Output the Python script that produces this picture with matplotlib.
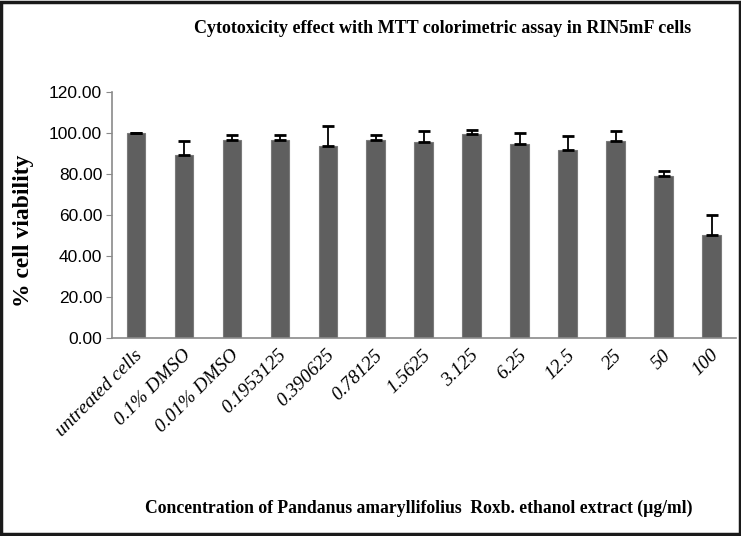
import numpy as np
import matplotlib.pyplot as plt
import matplotlib.transforms as mtransforms
from matplotlib.patches import Rectangle

# values
categories = ["untreated cells", "0.1% DMSO", "0.01% DMSO", "0.1953125", "0.390625",
              "0.78125", "1.5625", "3.125", "6.25", "12.5", "25", "50", "100"]
viability = [100.0, 89.4, 96.9, 96.9, 93.8, 96.9, 95.6, 99.4, 94.5, 92.0, 96.2, 79.2, 50.4]
sd = [0.3, 6.7, 2.4, 2.4, 9.8, 2.4, 5.5, 2.2, 5.4, 6.7, 4.8, 2.4, 9.6]
yticks = [0, 20, 40, 60, 80, 100, 120]

fig = plt.figure(figsize=(7.41, 5.36), dpi=100)
ax = fig.add_axes([0.151, 0.369, 0.842, 0.459])

x = np.arange(len(categories))
ax.bar(x, viability, width=0.39, color="#5f5f5f", edgecolor="#7a7a7a", linewidth=0.8, zorder=2)
ax.errorbar(x, viability, yerr=[np.zeros(len(sd)), sd], fmt="none", ecolor="black",
            elinewidth=1.3, capsize=4, capthick=2, zorder=3)

ax.set_xlim(-0.5, len(categories) - 0.5)
ax.set_ylim(0, 120)
ax.set_yticks(yticks)
ax.set_yticklabels([f"{v:.2f}" for v in yticks], family="Liberation Sans", fontsize=12.5)
ax.set_xticks(x)
ax.set_xticklabels(categories, rotation=45, ha="right", family="Liberation Serif",
                   style="italic", fontsize=14)
ax.tick_params(axis="x", length=0, pad=6)
ax.tick_params(axis="y", length=4, color="#8a8a8a", pad=3)

# shift rotated labels a little to the right, as in the reference
shift = mtransforms.ScaledTranslation(0.1, 0, fig.dpi_scale_trans)
for lbl in ax.get_xticklabels():
    lbl.set_transform(lbl.get_transform() + shift)

for side in ["top", "right"]:
    ax.spines[side].set_visible(False)
for side in ["left", "bottom"]:
    ax.spines[side].set_color("#8a8a8a")
    ax.spines[side].set_linewidth(1.2)

fig.text(0.598, 0.946, "Cytotoxicity effect with MTT colorimetric assay in RIN5mF cells",
         ha="center", va="center", family="Liberation Serif", weight="bold", fontsize=13)
fig.text(0.565, 0.052, "Concentration of Pandanus amaryllifolius  Roxb. ethanol extract (\u00b5g/ml)",
         ha="center", va="center", family="Liberation Serif", weight="bold", fontsize=12.7)
fig.text(0.032, 0.569, "% cell viability", ha="center", va="center", rotation=90,
         family="Liberation Serif", weight="bold", fontsize=17)

# black frame around the whole picture
fig.patches.append(Rectangle((0.002, 0.003), 0.996, 0.994, transform=fig.transFigure,
                             fill=False, edgecolor="#1a1a1a", linewidth=2.5))

fig.savefig("out.png", dpi=100)
